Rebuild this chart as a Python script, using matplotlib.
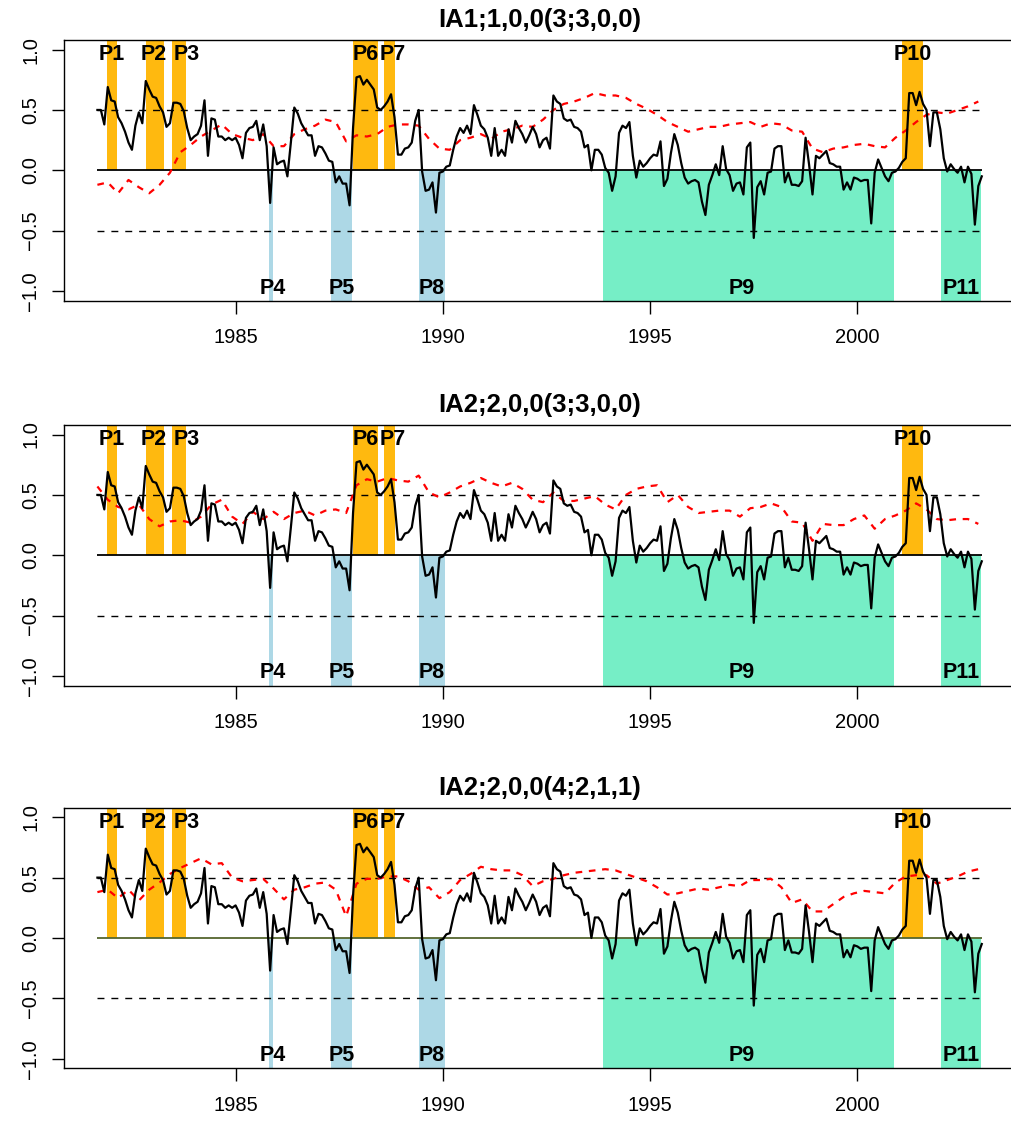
import numpy as np
import matplotlib
matplotlib.use('Agg')
import matplotlib.pyplot as plt

plt.rcParams['font.family'] = ['Liberation Sans', 'DejaVu Sans']

# monthly series, first point in 1981 (month 8 of 12)
START_YEAR = 1981 + 8 / 12

TITLES = ['IA1;1,0,0(3;3,0,0)', 'IA2;2,0,0(3;3,0,0)', 'IA2;2,0,0(4;2,1,1)']

# black series (same in every panel), one value per month
black_series = [
    0.50, 0.50, 0.38, 0.69, 0.58, 0.57, 0.44, 0.39, 0.32, 0.23,
    0.17, 0.37, 0.48, 0.39, 0.74, 0.67, 0.61, 0.60, 0.53, 0.48,
    0.36, 0.39, 0.56, 0.56, 0.55, 0.49, 0.35, 0.25, 0.28, 0.30,
    0.37, 0.58, 0.12, 0.43, 0.42, 0.28, 0.28, 0.25, 0.27, 0.25,
    0.27, 0.21, 0.10, 0.31, 0.35, 0.36, 0.41, 0.25, 0.38, 0.20,
    -0.27, 0.19, 0.05, 0.07, 0.08, -0.05, 0.23, 0.52, 0.47, 0.39,
    0.34, 0.29, 0.29, 0.12, 0.20, 0.19, 0.14, 0.08, 0.07, -0.10,
    -0.05, -0.11, -0.11, -0.29, 0.35, 0.77, 0.78, 0.71, 0.75, 0.71,
    0.67, 0.52, 0.50, 0.53, 0.57, 0.63, 0.44, 0.13, 0.13, 0.18,
    0.19, 0.23, 0.41, 0.50, -0.01, -0.17, -0.16, -0.10, -0.35, -0.02,
    -0.01, 0.03, 0.04, 0.17, 0.28, 0.35, 0.31, 0.37, 0.30, 0.54,
    0.46, 0.37, 0.34, 0.27, 0.12, 0.35, 0.12, 0.17, 0.12, 0.34,
    0.23, 0.41, 0.35, 0.30, 0.23, 0.29, 0.36, 0.30, 0.19, 0.25,
    0.27, 0.18, 0.62, 0.57, 0.55, 0.43, 0.41, 0.42, 0.36, 0.35,
    0.32, 0.19, 0.21, 0.00, 0.17, 0.17, 0.13, 0.02, -0.02, -0.17,
    -0.05, 0.31, 0.37, 0.35, 0.40, 0.12, -0.06, 0.08, 0.03, 0.06,
    0.10, 0.13, 0.12, 0.24, -0.13, -0.07, 0.14, 0.30, 0.21, 0.06,
    -0.06, -0.11, -0.09, -0.08, -0.10, -0.26, -0.37, -0.12, -0.04, 0.05,
    -0.04, 0.20, 0.01, -0.04, -0.17, -0.11, -0.10, -0.20, 0.19, 0.23,
    -0.56, -0.14, -0.09, -0.20, -0.02, -0.01, 0.18, 0.20, 0.20, -0.10,
    -0.02, -0.12, -0.12, -0.13, -0.09, 0.27, 0.05, -0.20, 0.12, 0.10,
    0.13, 0.16, 0.06, 0.05, 0.03, 0.03, -0.16, -0.10, -0.16, -0.06,
    -0.07, -0.09, -0.08, -0.08, -0.44, -0.02, 0.09, 0.02, -0.05, -0.09,
    -0.02, -0.01, 0.02, 0.07, 0.10, 0.64, 0.64, 0.54, 0.65, 0.55,
    0.50, 0.20, 0.48, 0.48, 0.34, 0.10, -0.01, 0.05, 0.01, -0.02,
    0.03, -0.10, 0.03, -0.03, -0.45, -0.13, -0.05,
]

# red dashed series, one value every 3 months
red_ia1 = [
    -0.12, -0.10, -0.19, -0.08, -0.14, -0.19, -0.12, -0.02, 0.15, 0.21,
    0.28, 0.33, 0.38, 0.30, 0.27, 0.25, 0.30, 0.20, 0.20, 0.30,
    0.34, 0.37, 0.42, 0.40, 0.24, 0.29, 0.28, 0.30, 0.36, 0.38,
    0.38, 0.37, 0.26, 0.18, 0.17, 0.25, 0.27, 0.30, 0.26, 0.32,
    0.34, 0.37, 0.36, 0.42, 0.50, 0.55, 0.57, 0.60, 0.64, 0.62,
    0.62, 0.60, 0.55, 0.51, 0.46, 0.40, 0.36, 0.32, 0.34, 0.36,
    0.36, 0.38, 0.39, 0.40, 0.36, 0.39, 0.38, 0.33, 0.32, 0.18,
    0.15, 0.18, 0.19, 0.21, 0.22, 0.20, 0.19, 0.27, 0.33, 0.40,
    0.46, 0.48, 0.47, 0.50, 0.53, 0.57,
]
red_ia2 = [
    0.57, 0.46, 0.40, 0.38, 0.42, 0.30, 0.24, 0.28, 0.29, 0.27,
    0.32, 0.42, 0.46, 0.32, 0.26, 0.36, 0.30, 0.36, 0.30, 0.35,
    0.37, 0.33, 0.37, 0.38, 0.35, 0.58, 0.63, 0.61, 0.64, 0.62,
    0.61, 0.66, 0.52, 0.48, 0.52, 0.57, 0.60, 0.64, 0.60, 0.57,
    0.60, 0.55, 0.46, 0.44, 0.52, 0.45, 0.45, 0.47, 0.49, 0.42,
    0.38, 0.50, 0.55, 0.57, 0.58, 0.44, 0.50, 0.40, 0.35, 0.36,
    0.37, 0.37, 0.32, 0.39, 0.40, 0.43, 0.40, 0.28, 0.27, 0.12,
    0.26, 0.25, 0.25, 0.30, 0.33, 0.22, 0.30, 0.33, 0.37, 0.43,
    0.38, 0.30, 0.29, 0.30, 0.30, 0.26,
]
red_ia2_b = [
    0.38, 0.40, 0.33, 0.40, 0.31, 0.40, 0.46, 0.53, 0.58, 0.62,
    0.66, 0.61, 0.62, 0.50, 0.47, 0.48, 0.49, 0.41, 0.32, 0.40,
    0.42, 0.45, 0.46, 0.40, 0.18, 0.45, 0.49, 0.49, 0.51, 0.51,
    0.47, 0.40, 0.42, 0.33, 0.38, 0.48, 0.53, 0.59, 0.57, 0.56,
    0.56, 0.52, 0.43, 0.47, 0.49, 0.52, 0.54, 0.55, 0.56, 0.57,
    0.56, 0.53, 0.50, 0.47, 0.42, 0.36, 0.37, 0.39, 0.41, 0.40,
    0.42, 0.44, 0.43, 0.48, 0.48, 0.49, 0.42, 0.29, 0.32, 0.22,
    0.22, 0.28, 0.34, 0.37, 0.39, 0.38, 0.37, 0.46, 0.51, 0.52,
    0.52, 0.45, 0.48, 0.51, 0.55, 0.57,
]
RED_SERIES = [red_ia1, red_ia2, red_ia2_b]

# periods: name, start, end
high_periods = [('P1', 1981.91, 1982.13), ('P2', 1982.84, 1983.27),
                ('P3', 1983.47, 1983.80), ('P6', 1987.83, 1988.44),
                ('P7', 1988.58, 1988.85), ('P10', 2001.08, 2001.59)]
low_periods = [('P4', 1985.81, 1985.91), ('P5', 1987.30, 1987.81),
               ('P8', 1989.43, 1990.05)]
long_low_periods = [('P9', 1993.86, 2000.89), ('P11', 2002.01, 2002.98)]

label_years = {'P1': 1982.02, 'P2': 1983.02, 'P3': 1983.83, 'P4': 1985.90,
               'P5': 1987.57, 'P6': 1988.15, 'P7': 1988.80, 'P8': 1989.74,
               'P9': 1997.20, 'P10': 2001.34, 'P11': 2002.51}

ORANGE = '#FFB90F'
LIGHTBLUE = '#ADD8E6'
AQUA = '#76EEC6'
ZERO_COLORS = ['black', 'black', '#55662e']


def draw_panel(ax, title, red_values, zero_color):
    t = START_YEAR + np.arange(len(black_series)) / 12
    t_red = START_YEAR + np.arange(0, 3 * len(red_values), 3) / 12

    for name, a, b in high_periods:
        ax.axvspan(a, b, ymin=0.5, ymax=1, color=ORANGE, lw=0, zorder=1)
        ax.text(label_years[name], 0.96, name, ha='center', va='center',
                fontsize=15.5, fontweight='bold', zorder=5)
    for name, a, b in low_periods:
        ax.axvspan(a, b, ymin=0, ymax=0.5, color=LIGHTBLUE, lw=0, zorder=1)
        ax.text(label_years[name], -0.975, name, ha='center', va='center',
                fontsize=15.5, fontweight='bold', zorder=5)
    for name, a, b in long_low_periods:
        ax.axvspan(a, b, ymin=0, ymax=0.5, color=AQUA, lw=0, zorder=1)
        ax.text(label_years[name], -0.975, name, ha='center', va='center',
                fontsize=15.5, fontweight='bold', zorder=5)

    ax.hlines([0.5, -0.5], t[0], t[-1], colors='black',
              linestyles=[(0, (5, 5))], lw=1.0, zorder=2)
    ax.hlines(0, t[0], t[-1], colors=zero_color, lw=1.3, zorder=2)

    ax.plot(t_red, red_values, color='red', lw=1.6, ls=(0, (3, 3)), zorder=3)
    ax.plot(t, black_series, color='black', lw=1.6, zorder=4)

    ax.set_xlim(1980.86, 2003.80)
    ax.set_ylim(-1.08, 1.08)
    ax.set_xticks([1985, 1990, 1995, 2000])
    yt = [-1.0, -0.5, 0.0, 0.5, 1.0]
    ax.set_yticks(yt)
    ax.set_yticklabels([('%.1f' % v).replace('-', '\u2212') for v in yt],
                       rotation=90, va='center')
    ax.tick_params(axis='both', direction='out', length=9, width=1,
                   labelsize=14.5)
    ax.tick_params(axis='x', pad=11)
    ax.tick_params(axis='y', pad=8)
    for sp in ax.spines.values():
        sp.set_linewidth(1)
    ax.spines['right'].set_visible(False)
    ax.set_title(title, fontsize=18.5, fontweight='bold', pad=9)


def main():
    fig = plt.figure(figsize=(10.12, 11.22), dpi=100)
    bottoms = [0.732, 0.3889, 0.0478]
    for k in range(3):
        ax = fig.add_axes([0.0632, bottoms[k], 0.9397, 0.2324])
        draw_panel(ax, TITLES[k], RED_SERIES[k], ZERO_COLORS[k])
    fig.savefig('out.png', dpi=100)


if __name__ == "__main__":
    main()
